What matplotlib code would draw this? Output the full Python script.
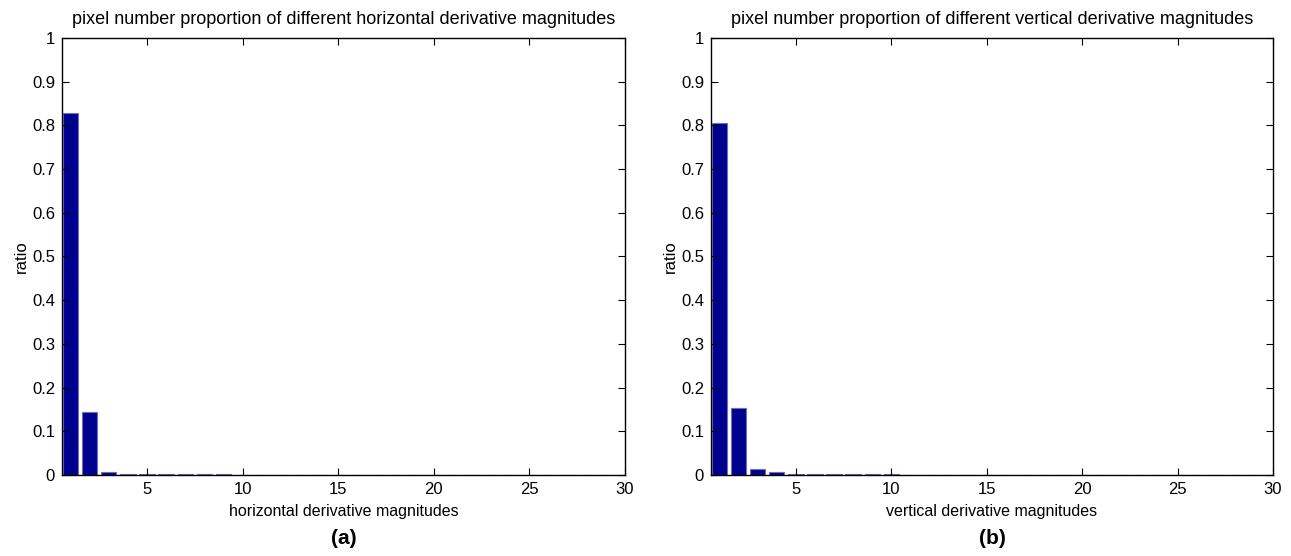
import matplotlib.pyplot as plt
import numpy as np

plt.rcParams['font.family'] = ['Liberation Sans', 'DejaVu Sans']

# bin index (derivative magnitude) and proportion of pixels
mags = np.arange(1, 30)
ratio_h = [0.828, 0.145, 0.006, 0.0025, 0.002, 0.0015, 0.0015, 0.0012, 0.0012, 0.001,
           0.001, 0.001, 0.0006, 0.0005, 0.0004, 0.0004, 0.0003, 0.0003, 0.0003, 0.0002,
           0.0002, 0.0002, 0.0002, 0.0002, 0.0001, 0.0001, 0.0001, 0.0001, 0.0001]
ratio_v = [0.805, 0.153, 0.014, 0.006, 0.003, 0.002, 0.0015, 0.0015, 0.0012, 0.0012,
           0.001, 0.001, 0.001, 0.0006, 0.0005, 0.0004, 0.0004, 0.0003, 0.0003, 0.0003,
           0.0002, 0.0002, 0.0002, 0.0002, 0.0001, 0.0001, 0.0001, 0.0001, 0.0001]

panels = [
    (ratio_h, 'pixel number proportion of different horizontal derivative magnitudes',
     'horizontal derivative magnitudes', '(a)', [0.048, 0.1457, 0.436, 0.786]),
    (ratio_v, 'pixel number proportion of different vertical derivative magnitudes',
     'vertical derivative magnitudes', '(b)', [0.5507, 0.1457, 0.4353, 0.786]),
]

fig = plt.figure(figsize=(12.91, 5.56), dpi=100)

for vals, title, xlabel, tag, pos in panels:
    ax = fig.add_axes(pos)
    ax.bar(mags, vals, width=0.8, color='#00008F', edgecolor='#6f6fc0', linewidth=0.8)
    ax.set_xlim(0.55, 30)
    ax.set_ylim(0, 1)
    ax.set_xticks([5, 10, 15, 20, 25, 30])
    ax.set_yticks(np.arange(0, 1.01, 0.1))
    ax.set_yticklabels(['0', '0.1', '0.2', '0.3', '0.4', '0.5', '0.6', '0.7', '0.8', '0.9', '1'])
    ax.tick_params(direction='in', top=True, right=True, length=5, width=0.8,
                   labelsize=12, pad=5)
    for s in ax.spines.values():
        s.set_linewidth(1.0)
    ax.set_title(title, fontsize=13, pad=10)
    ax.set_xlabel(xlabel, fontsize=11.5, labelpad=5)
    ax.set_ylabel('ratio', fontsize=12, labelpad=2)
    ax.text(0.5, -0.145, tag, transform=ax.transAxes, ha='center', va='center',
            fontsize=15, fontweight='bold')

plt.savefig('out.png', dpi=100)
